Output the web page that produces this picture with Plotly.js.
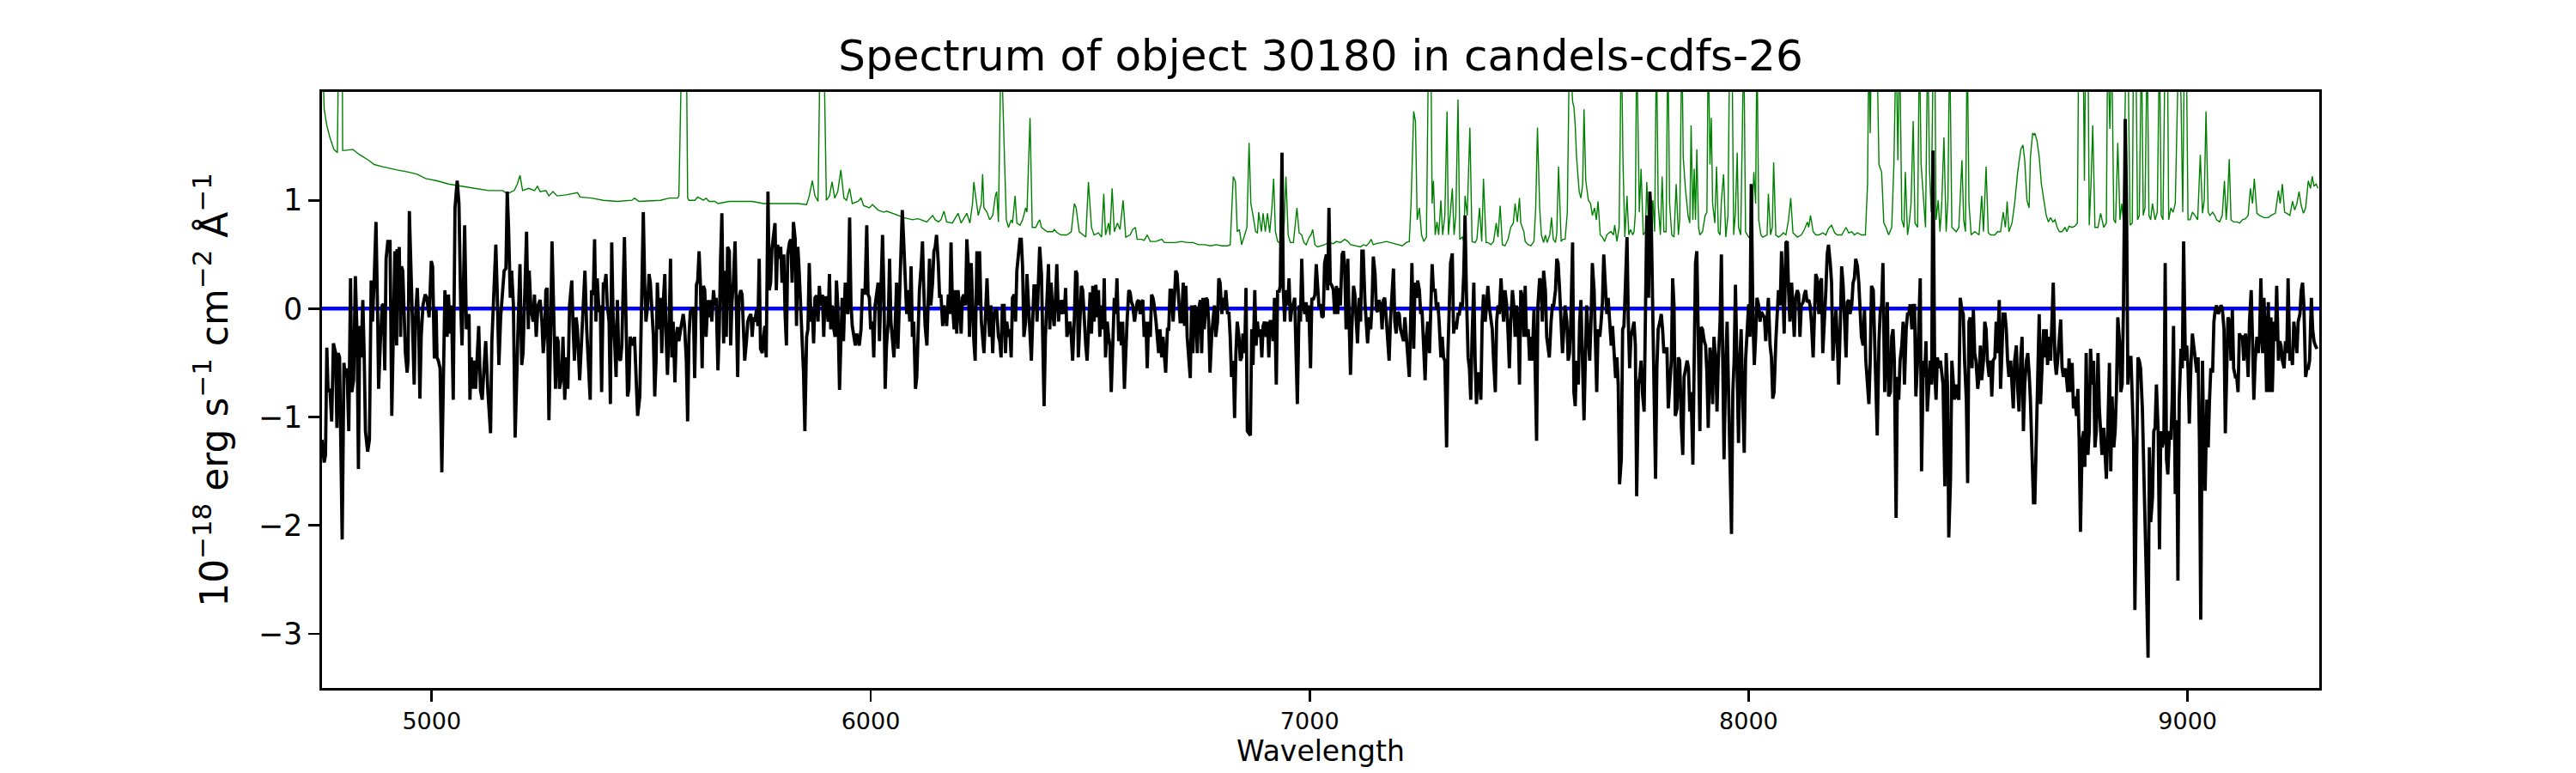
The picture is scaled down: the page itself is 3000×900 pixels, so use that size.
<!DOCTYPE html>
<html>
<head>
<meta charset="utf-8">
<script src="https://cdn.plot.ly/plotly-3.0.1.min.js"></script>
<style>html,body{margin:0;padding:0;background:#fff;}#chart{width:3000px;height:900px;}</style>
</head>
<body>
<div id="chart"></div>
<script>
// ---- Data ----
// Object spectrum (black), segment by segment: wavelength (Angstrom) and flux (1e-18 erg/s/cm2/A)
const waveA = [4750,4755,4758,4761,4764,4768,4772,4776,4781,4784,
4787,4790,4796,4800,4803,4807,4811,4815,4818,4822,
4826,4830,4833,4836,4839,4843,4846,4849,4854,4858,
4862,4865,4869,4873,4877,4879,4883,4887,4890,4893,
4896,4900,4905,4909,4913,4916,4920,4921,4924,4926,
4929,4931,4934,4937,4940,4944,4946,4949,4954,4957,
4960,4963,4967,4970,4973,4976,4980,4985,4989,4994,
4999,5002,5006,5010,5012,5015,5019,5023,5027,5030,
5035,5038,5042,5045,5049,5053,5058,5062,5066,5069,
5072,5075,5079,5082,5085,5087,5090,5094,5097,5100,
5104,5107,5111,5115,5119,5123,5128,5134,5137,5141,
5146,5149,5153,5157,5161,5165,5169,5172,5175,5179,
5182,5186,5190,5194,5197,5201,5205,5208,5211,5216,
5220,5222,5226,5231,5234,5238,5242,5247,5251,5254,
5257,5260,5263,5267,5270,5274,5278,5282,5285,5288,
5291,5296,5299,5303,5307,5310,5314,5319,5322,5325,
5329,5332,5337,5342,5345,5349,5353,5357,5361,5364,
5368,5371,5374,5377,5381,5384,5387,5391,5394,5397,
5400,5404,5407,5410,5413,5417,5420,5423,5426,5430,
5433,5439,5443,5446,5449,5452,5456,5459,5462,5466,
5469,5474,5479,5482,5485,5488,5492,5495,5498,5505,
5508,5511,5514,5518];
const fluxA = [-1.21,-1.42,-1.35,-0.36,-0.77,-0.74,-1.04,-0.32,-0.41,-1.10,
-0.41,-0.45,-2.13,-0.50,-0.63,-0.55,-1.13,0.28,-0.77,-0.66,
0.30,-0.26,-1.48,-0.16,-0.45,0.08,-0.41,-1.13,-1.32,-1.21,
0.26,-0.12,0.28,0.80,-0.12,-0.74,-0.30,0.03,0.04,-0.57,
0.46,0.62,0.62,-0.99,-0.12,0.53,-0.34,0.55,0.13,0.57,
-0.26,0.39,0.35,-0.08,-0.41,-0.59,-0.48,0.90,0.03,-0.26,
-0.70,-0.08,0.19,-0.12,-0.83,-0.26,0.03,0.13,0.10,-0.08,
0.44,0.39,-0.46,-0.01,-0.45,-0.48,-0.55,-1.51,-0.48,0.17,
-0.26,0.13,-0.23,0.03,-0.84,0.93,1.18,0.97,0.03,-0.34,
0.17,0.77,-0.19,-0.12,-0.05,-0.84,-0.45,-0.74,-0.48,-0.74,
-0.45,-0.16,-0.75,-0.84,-0.55,-0.30,-0.77,-1.15,-0.30,0.03,
0.59,0.17,-0.52,-0.08,0.17,0.35,0.37,1.08,0.75,0.10,
0.35,0.04,-1.19,-0.45,-0.12,0.41,-0.52,-0.41,-0.05,0.71,
-0.19,0.35,-0.01,-0.12,0.13,-0.26,0.03,0.08,-0.12,-0.41,
-0.26,0.17,0.19,-1.03,-0.41,0.62,-0.05,-0.74,-0.26,-0.30,
-0.74,-0.63,-0.26,-0.84,-0.45,-0.74,0.03,0.26,-0.16,-0.48,
-0.08,-0.19,-0.66,-0.26,0.08,0.35,-0.19,-0.48,-0.84,0.17,
0.13,0.64,-0.12,0.28,-0.03,0.03,-0.77,0.24,0.22,0.32,
0.03,-0.12,-0.88,0.61,-0.05,-0.34,-0.63,0.08,-0.45,-0.48,
-0.34,0.66,-0.12,-0.81,-0.74,-0.26,-0.30,-0.34,-0.26,-0.81,
-0.99,-0.81,0.24,0.89,0.24,-0.12,0.03,0.32,0.24,-0.26,
-0.81,-0.48,0.24,-0.19];

const waveB = [5521,5524,5528,5531,5534,5537,5541,5544,5547,5550,
5554,5557,5560,5563,5567,5570,5573,5576,5580,5583,
5586,5589,5593,5596,5599,5603,5606,5609,5612,5616,
5619,5622,5625,5629,5632,5635,5638,5642,5645,5648,
5652,5655,5658,5661,5665,5668,5671,5674,5678,5681,
5684,5687,5691,5694,5697,5700,5704,5707,5710,5713,
5717,5720,5723,5727,5730,5733,5736,5740,5743,5746,
5749,5753,5756,5759,5762,5766,5769,5772,5775,5779,
5782,5785,5788,5792,5795,5798,5802,5805,5808,5811,
5815,5818,5821,5824,5828,5831,5834,5837,5841,5844,
5847,5850,5854,5857,5860,5864,5867,5870,5873,5877,
5880,5883,5886,5890,5893,5896,5899,5903,5906,5909,
5912,5916,5919,5922,5925,5929,5932,5935,5938,5942,
5945,5948,5952,5955,5958,5961,5965,5968,5971,5974,
5978,5981,5984,5987,5991,5994,5997,6000,6004,6007,
6010,6013,6017,6020,6023,6027,6030,6033,6036,6040,
6043,6046,6049,6053,6056,6059,6062,6066,6069,6072,
6075,6079,6082,6085,6089,6092,6095,6098,6102,6105,
6108,6111,6115,6118,6121,6124,6128,6131,6134,6137,
6141,6144,6147,6150,6154,6157,6160,6164,6167,6170,
6173,6177,6180,6183,6186,6190,6193,6196,6199,6203,
6206,6209,6212,6216,6219,6222,6225,6229,6232,6235,
6238,6242,6245,6248,6252,6255,6258,6261,6265,6268,
6271,6274,6278,6281,6284,6287,6291,6294,6297,6300];
const fluxB = [0.10,-0.41,0.10,0.32,-0.26,-0.61,-0.12,0.46,-0.45,-0.12,
-0.68,-0.26,-0.17,-0.30,-0.19,-0.12,-0.05,-0.16,-0.48,-1.04,
-0.26,-0.03,-0.01,0.01,-0.64,0.22,0.26,0.53,0.24,-0.55,
0.21,0.17,-0.26,0.08,-0.08,0.08,-0.12,0.17,0.03,0.10,
-0.57,-0.19,0.46,0.88,-0.32,0.35,-0.26,0.57,0.53,-0.34,
0.06,0.24,0.62,-0.23,-0.63,0.10,0.17,0.13,-0.12,-0.48,
-0.30,-0.12,-0.08,-0.05,-0.26,-0.08,-0.12,-0.01,-0.16,0.46,
-0.37,-0.41,-0.26,-0.16,-0.45,1.08,0.17,0.24,0.55,0.68,
0.79,0.17,0.59,0.46,0.57,0.24,0.50,-0.05,-0.34,0.50,
0.61,0.64,0.24,0.80,0.64,-0.16,0.57,0.35,-0.07,-0.34,
-0.59,-1.13,-0.26,-0.19,0.42,-0.12,-0.01,-0.32,0.10,0.12,
-0.12,0.21,0.03,0.13,-0.26,0.10,0.10,-0.12,0.32,-0.19,
0.03,-0.19,-0.26,0.26,0.03,-0.75,-0.16,0.10,-0.30,0.24,
0.03,-0.05,0.84,0.06,-0.16,-0.26,-0.34,-0.23,-0.30,-0.34,
-0.19,0.17,0.17,0.13,0.77,0.13,0.10,-0.19,-0.12,-0.45,
0.03,0.13,0.24,-0.30,0.10,0.68,0.17,-0.74,-0.34,-0.12,
0.46,-0.12,-0.26,-0.45,-0.12,0.24,-0.37,0.24,0.68,0.91,
0.64,0.32,-0.05,0.17,-0.12,0.39,-0.26,-0.12,-0.74,-0.63,
-0.19,0.17,0.39,0.62,0.17,-0.16,-0.34,0.17,0.46,0.03,
0.24,0.53,0.57,0.68,0.42,0.10,0.13,-0.16,0.03,-0.05,
-0.16,0.13,-0.05,0.61,0.06,-0.19,0.17,-0.23,0.17,-0.01,
-0.23,0.10,0.13,0.03,0.64,0.42,-0.26,0.42,-0.01,-0.30,
-0.48,0.53,0.03,0.53,-0.12,-0.26,-0.41,-0.12,0.28,-0.05,
-0.26,0.03,-0.41,-0.05,-0.01,-0.01,-0.26,-0.30,-0.45,0.03];

const waveC = [6304,6307,6310,6314,6317,6320,6323,6327,6330,6333,
6336,6340,6343,6346,6349,6353,6356,6359,6362,6366,
6369,6372,6376,6379,6382,6385,6389,6392,6395,6398,
6402,6405,6408,6411,6415,6418,6421,6424,6428,6431,
6434,6438,6441,6444,6447,6451,6454,6457,6460,6464,
6467,6470,6473,6477,6480,6483,6486,6490,6493,6496,
6500,6503,6506,6509,6513,6516,6519,6522,6526,6529,
6532,6535,6539,6542,6545,6548,6552,6555,6558,6561,
6565,6568,6571,6574,6578,6581,6584,6588,6591,6594,
6597,6601,6604,6607,6610,6614,6617,6620,6623,6627,
6630,6633,6637,6640,6643,6646,6650,6653,6656,6659,
6663,6666,6669,6672,6676,6679,6682,6685,6689,6692,
6695,6698,6702,6705,6708,6712,6715,6718,6721,6725,
6728,6731,6734,6738,6741,6744,6747,6751,6754,6757,
6760,6764,6767,6770,6773,6777,6780,6783,6786,6790,
6793,6796,6800,6803,6806,6809,6813,6816,6819,6822,
6826,6829,6832,6835,6839,6842,6845,6848,6852,6855,
6858,6862,6865,6868,6871,6875,6878,6881,6884,6888,
6891,6894,6897,6901,6904,6907,6910,6914,6917,6920,
6924,6927,6930,6933,6937,6940,6943,6946,6950,6953,
6956,6959,6963,6966,6969,6972,6976,6979,6982,6985,
6989,6992,6995,6998,7002,7005,7008,7012,7015,7018,
7021,7025,7028,7031,7034,7038,7041,7044,7047,7051,
7054,7057,7061,7064,7067,7070,7074,7077,7080,7083];
const fluxC = [0.03,-0.41,-0.12,-0.26,-0.19,-0.45,0.10,0.13,-0.12,0.35,
0.50,0.64,0.64,0.39,-0.26,-0.12,0.32,0.06,-0.26,-0.48,
-0.12,0.21,0.21,-0.12,0.24,0.57,0.32,-0.34,-0.90,-0.26,
0.24,0.41,-0.19,0.24,-0.05,-0.16,0.10,0.41,-0.12,0.08,
-0.05,0.08,-0.05,0.19,-0.26,-0.19,-0.12,-0.26,-0.48,-0.08,
0.35,0.32,-0.45,-0.08,0.21,0.17,-0.12,-0.34,-0.48,-0.12,
0.15,-0.23,0.21,-0.12,0.22,-0.08,0.17,-0.26,0.03,-0.19,
0.28,-0.45,-0.12,-0.26,-0.34,-0.77,-0.19,0.10,-0.05,0.28,
-0.30,-0.12,-0.34,-0.12,-0.74,-0.30,-0.12,0.17,0.15,0.06,
0.03,-0.12,-0.05,0.06,0.08,-0.05,0.06,0.08,-0.26,-0.12,
-0.55,-0.12,-0.26,0.13,0.10,0.03,-0.12,-0.26,-0.41,-0.19,
-0.45,-0.26,-0.48,-0.59,-0.19,-0.19,0.17,0.17,-0.12,0.21,
0.35,0.32,0.03,-0.12,-0.12,0.24,-0.16,0.21,-0.26,-0.48,
-0.64,0.03,-0.41,0.03,-0.01,-0.41,-0.01,0.08,-0.41,0.10,
-0.19,0.10,0.08,-0.12,-0.59,-0.23,-0.05,0.03,-0.26,-0.12,
0.28,0.24,-0.05,0.10,-0.01,0.17,-0.05,-0.03,-0.26,-0.63,
-0.48,-1.01,-0.41,-0.12,-0.26,-0.48,-0.45,-0.23,-0.41,0.19,
-1.13,-1.15,-1.17,-0.19,-0.52,0.17,-0.34,-0.12,-0.26,-0.19,
-0.45,-0.16,-0.12,-0.26,-0.12,-0.45,-0.12,-0.12,-0.30,0.10,
-0.70,0.17,0.15,0.21,1.44,0.17,-0.12,0.17,0.03,0.28,
-0.12,-0.01,0.06,0.10,-0.41,-0.88,0.03,-0.12,0.46,0.03,
-0.05,0.06,-0.12,0.03,-0.55,0.10,0.08,0.13,0.41,0.17,
0.03,0.03,-0.08,-0.07,0.42,0.50,0.17,0.93,0.24,0.21,
0.17,-0.05,0.21,-0.05,0.19,0.03,0.50,0.53,0.35,-0.19];

const waveD = [7087,7090,7093,7096,7100,7103,7106,7109,7113,7116,
7119,7122,7126,7129,7132,7136,7139,7142,7145,7149,
7152,7155,7158,7162,7165,7168,7171,7175,7178,7181,
7184,7188,7191,7194,7197,7201,7204,7207,7210,7214,
7217,7220,7224,7227,7230,7233,7237,7240,7243,7246,
7250,7253,7256,7259,7263,7266,7269,7273,7276,7279,
7282,7286,7289,7292,7295,7299,7302,7305,7308,7312,
7315,7318,7321,7325,7328,7331,7334,7338,7341,7344,
7348,7351,7354,7357,7361,7364,7367,7370,7374,7377,
7380,7383,7387,7390,7393,7396,7400,7403,7406,7409,
7413,7416,7419,7423,7426,7429,7432,7436,7439,7442,
7445,7449,7452,7455,7458,7462,7465,7468,7471,7475,
7478,7481,7485,7488,7491,7494,7498,7501,7504,7507,
7511,7514,7517,7520,7524,7527,7530,7533,7537,7540,
7543,7546,7550,7553,7556,7560,7563,7566,7569,7573,
7576,7579,7582,7586,7589,7592,7595,7599,7602,7605,
7608,7612,7615,7618,7621,7625,7628,7631,7634,7638,
7641,7644,7648,7651,7654,7657,7661,7664,7667,7670,
7674,7677,7680,7683,7687,7690,7693,7697,7700,7703,
7706,7710,7713,7716,7719,7723,7726,7729,7732,7736,
7739,7742,7745,7749,7752,7755,7758,7762,7765,7768,
7772,7775,7778,7781,7785,7788,7791,7794,7798,7801,
7804,7807,7811,7814,7817,7820,7824,7827,7830,7833,
7837,7840,7843,7847,7850,7853,7856,7860,7863,7866];
const fluxD = [0.46,-0.12,-0.61,-0.19,0.21,0.13,-0.12,-0.32,0.10,-0.12,
0.53,0.53,0.06,-0.16,-0.32,-0.08,-0.19,0.03,0.48,0.32,
-0.01,-0.03,0.08,0.03,-0.19,0.08,0.10,-0.12,-0.26,-0.48,
-0.12,0.17,0.37,-0.12,-0.23,-0.03,-0.05,-0.19,-0.23,-0.30,
-0.08,-0.26,-0.45,-0.63,-0.12,0.42,-0.37,0.24,0.10,0.26,
0.17,-0.05,-0.01,-0.26,-0.66,-0.26,-0.12,-0.41,-0.05,0.41,
0.17,0.17,-0.01,0.06,-0.12,-0.45,-0.26,-0.45,-0.48,-1.28,
-0.41,0.17,0.42,0.51,-0.23,-0.12,-0.19,-0.05,-0.05,0.04,
0.03,0.32,0.86,0.17,-0.45,-0.55,-0.84,-0.26,0.24,-0.48,
-0.88,-0.59,-0.63,-0.84,-0.12,0.13,-0.12,0.03,0.21,0.03,
-0.12,-0.19,-0.48,-0.77,-0.12,0.03,-0.05,0.28,0.03,-0.12,
0.17,0.03,-0.23,-0.55,-0.12,0.17,0.03,-0.26,0.03,-0.12,
-0.70,0.17,0.10,-0.26,0.21,-0.26,-0.19,-0.48,-0.26,-0.48,
-0.01,-0.52,-1.22,0.03,0.28,0.24,-0.12,0.35,0.17,-0.26,
-0.34,-0.45,-0.12,0.03,0.03,0.17,0.46,0.42,0.21,-0.12,
-0.41,-0.19,0.03,-0.12,-0.48,-0.41,-0.12,0.61,-0.77,-0.90,
-0.48,-0.70,-0.12,0.08,-0.48,-1.03,-0.48,0.03,-0.19,-0.48,
-0.12,0.42,0.17,-0.26,-0.77,-0.19,-0.26,-0.12,0.06,0.50,
0.17,-0.05,0.10,-0.05,-0.34,-0.16,-0.41,-0.64,-0.45,-0.70,
-1.62,-1.39,-0.19,-0.16,0.17,0.66,-0.12,-0.55,-0.26,-0.16,
-0.12,-0.34,-1.73,-0.70,-0.63,-0.48,-0.77,-0.95,0.17,0.86,
0.10,1.08,0.86,0.10,-0.48,-1.57,-0.55,-0.19,-0.12,-0.05,
-0.19,-0.41,-0.37,-0.37,-0.92,-0.70,-0.48,0.28,0.03,-0.99,
-0.92,-0.45,-0.48,-1.10,-1.35,-0.63,-0.55,-0.48,-0.55,-0.95];

const waveE = [7869,7873,7876,7879,7882,7886,7889,7892,7895,7899,
7902,7905,7908,7912,7915,7918,7921,7925,7928,7931,
7935,7938,7941,7944,7948,7951,7954,7957,7961,7964,
7967,7970,7974,7977,7980,7983,7987,7990,7993,7996,
8000,8003,8006,8010,8013,8016,8019,8023,8026,8029,
8032,8036,8039,8042,8045,8049,8052,8055,8058,8062,
8065,8068,8072,8075,8078,8081,8085,8088,8091,8094,
8098,8101,8104,8107,8111,8114,8117,8120,8124,8127,
8130,8133,8137,8140,8143,8147,8150,8153,8156,8160,
8163,8166,8169,8173,8176,8179,8182,8186,8189,8192,
8196,8199,8202,8205,8209,8212,8215,8218,8222,8225,
8228,8231,8235,8238,8241,8244,8248,8251,8254,8257,
8261,8264,8267,8270,8274,8277,8280,8284,8287,8290,
8293,8297,8300,8303,8306,8310,8313,8316,8319,8323,
8326,8329,8332,8336,8339,8342,8345,8349,8352,8355,
8359,8362,8365,8368,8372,8375,8378,8381,8385,8388,
8391,8394,8398,8401,8404,8407,8411,8414,8417,8420,
8424,8427,8430,8434,8437,8440,8443,8447,8450,8453,
8456,8460,8463,8466,8469,8473,8476,8479,8482,8486,
8489,8492,8496,8499,8502,8505,8509,8512,8515,8518,
8522,8525,8528,8531,8535,8538,8541,8544,8548,8551,
8554,8557,8561,8564,8567,8571,8574,8577,8580,8584,
8587,8590,8593,8597,8600,8603,8606,8610,8613,8616,
8620,8623,8626,8629,8633,8636,8639,8642,8646,8649];
const fluxE = [-0.77,-1.44,-0.48,0.42,0.53,-0.48,-1.13,-0.17,-0.19,-0.30,
-0.34,-0.59,-1.10,-0.36,-0.48,-0.88,-0.26,-0.48,-0.95,-0.48,
-0.12,0.50,-0.48,-1.39,-0.48,-0.12,-0.70,-1.21,-2.08,-0.77,
-0.48,0.22,-0.48,-1.24,-0.48,-0.19,-0.92,-1.33,-0.48,-0.19,
0.04,-0.26,1.15,-0.12,-0.52,-0.26,0.10,0.03,-0.12,-0.03,
-0.05,-0.08,-0.30,-0.08,0.10,-0.34,-0.45,-0.83,-0.77,-0.30,
0.03,0.17,0.03,0.53,0.17,-0.23,0.61,0.62,0.17,-0.12,
0.24,-0.12,-0.26,0.10,0.17,0.13,-0.26,0.03,0.06,0.13,
0.17,0.06,0.08,0.03,-0.12,-0.45,-0.12,0.32,0.28,-0.05,
0.24,0.28,-0.41,-0.12,0.17,0.50,0.59,0.42,0.24,-0.48,
-0.19,-0.01,-0.30,-0.70,-0.12,0.39,0.24,-0.12,-0.45,0.06,
0.08,-0.05,0.03,0.24,0.28,0.46,0.39,0.24,0.03,-0.26,
-0.34,-0.01,-0.48,-0.70,-0.88,-0.48,0.21,0.17,-0.26,-0.84,
-1.17,-0.30,-0.01,0.03,0.42,-0.77,-0.26,0.06,-0.81,-0.77,
-0.26,-0.19,-0.48,-1.93,-0.63,-0.84,-0.48,-0.34,-0.12,-0.70,
-0.19,-0.05,-0.05,0.04,-0.19,0.03,0.03,-0.81,-0.48,0.03,
0.28,-1.50,-0.48,-0.63,-0.30,-0.95,-0.70,-0.48,-0.70,1.46,
-0.59,-0.84,-0.45,-0.55,-0.48,-0.59,-0.70,-1.64,-0.41,-0.70,
-2.11,-1.57,-0.48,-0.66,-0.84,-0.70,-0.81,-0.84,0.10,-0.01,
-0.05,-0.48,-0.84,-1.61,-0.12,-0.08,-0.55,-0.01,-0.41,-0.48,
-0.74,-0.63,-0.34,-0.66,-0.48,-0.12,-0.19,-0.48,-0.63,-0.48,
-0.81,-0.48,-0.45,-0.12,-0.41,0.08,-0.74,-0.41,-0.05,-0.05,
-0.19,-0.48,-0.63,-0.48,-0.70,-0.92,-0.48,-0.34,-0.74,-0.95,
-0.45,-0.26,-1.13,-0.70,-0.48,-0.41,-0.59,-0.84,-1.39,-1.79];

const waveF = [8652,8655,8659,8662,8665,8668,8672,8675,8678,8681,
8685,8688,8691,8694,8698,8701,8704,8708,8711,8714,
8717,8721,8724,8727,8730,8734,8737,8740,8743,8747,
8750,8753,8756,8760,8763,8766,8769,8773,8776,8779,
8783,8786,8789,8792,8796,8799,8802,8805,8809,8812,
8815,8818,8822,8825,8828,8832,8835,8838,8841,8845,
8848,8851,8854,8858,8861,8864,8867,8871,8874,8877,
8880,8884,8887,8890,8893,8897,8900,8903,8906,8910,
8913,8916,8920,8923,8926,8929,8933,8936,8939,8942,
8946,8949,8952,8955,8959,8962,8965,8968,8972,8975,
8978,8981,8985,8988,8991,8995,8998,9001,9004,9008,
9011,9014,9017,9021,9024,9027,9030,9034,9037,9040,
9044,9047,9050,9053,9057,9060,9063,9066,9070,9073,
9076,9079,9083,9086,9089,9092,9096,9099,9102,9105,
9109,9112,9115,9118,9122,9125,9128,9132,9135,9138,
9141,9145,9148,9151,9154,9158,9161,9164,9167,9171,
9174,9177,9180,9184,9187,9190,9193,9197,9200,9203,
9207,9210,9213,9216,9220,9223,9226,9229,9233,9236,
9239,9242,9246,9249,9252,9256,9259,9262,9265,9269,
9272,9275,9278,9282,9285,9288,9291,9295];
const fluxF = [-1.79,-1.21,-0.48,-0.05,-0.88,-0.48,-0.19,-0.45,-0.19,-0.52,
-0.26,-0.48,-0.12,0.24,-0.48,-0.61,-0.48,-0.19,-0.10,-0.54,
-0.63,-0.55,-0.63,-0.77,-0.46,-0.77,-0.50,-0.92,-0.81,-0.99,
-0.74,-1.21,-2.06,-1.21,-1.13,-1.46,-0.41,-1.35,-1.13,-0.37,
-0.70,-0.48,-1.28,-1.13,-0.41,-0.92,-1.21,-1.35,-1.10,-1.35,
-1.57,-1.17,-0.50,-1.50,-0.81,-1.28,-1.13,-0.77,-0.08,-0.30,
-0.77,-0.70,0.03,1.75,0.97,-0.70,-0.45,-0.45,-0.84,-1.21,
-2.78,-1.21,-0.45,-0.48,-0.55,-0.92,-1.39,-1.75,-2.47,-3.22,
-1.28,-1.97,-1.75,-1.13,-1.10,-0.70,-1.13,-2.22,-1.13,-1.28,
-1.21,0.42,-1.39,-1.53,-1.13,-1.21,-0.84,-0.16,-1.71,-1.03,
-2.51,-0.84,-0.37,-0.55,0.62,-0.48,-0.34,-0.55,-1.06,-0.48,
-0.23,-0.34,-0.45,-0.59,-0.45,-1.21,-2.87,-0.48,-1.32,-1.68,
-0.84,-1.28,-0.84,-0.55,-0.59,-0.12,-0.01,0.03,-0.05,-0.01,
0.03,0.01,-0.19,-1.15,-0.41,-0.08,-0.12,-0.48,-0.01,-0.55,
-0.63,-0.63,-0.77,-0.23,-0.26,-0.26,-0.48,-0.23,-0.34,-0.63,
-0.12,0.17,-0.30,-0.84,-0.48,-0.26,-0.41,-0.26,0.28,-0.41,
0.10,-0.19,-0.77,0.06,-0.77,-0.08,-0.77,-0.12,-0.30,0.21,
-0.48,-0.30,-0.34,-0.48,-0.55,-0.30,-0.41,0.28,-0.48,-0.41,
-0.52,-0.12,-0.26,-0.41,-0.12,-0.05,0.17,0.24,0.03,-0.63,
-0.55,-0.55,-0.48,0.10,-0.19,-0.30,-0.34,-0.37];

// Sky / noise spectrum (green); sky-line peaks that leave the frame are given as 2.5 (clipped)
const skyWave1 = [4750,4755,4761,4768,4777,4785,4788,4796,4797,4803,4820,4836,4856,4869,4888,4908,4921,4947,4967,4986,5012,5038,5064,5097,5130,5162,5172,5188,5195,5201,5207,5221,5234,5241,5247,5260,5267,5276,5286,5306,5332,5338,5364,5391,5423,5456,5462,5472];
const sky1 = [2.5,1.84,1.69,1.58,1.47,1.44,2.5,2.5,1.46,1.46,1.47,1.42,1.37,1.33,1.31,1.29,1.28,1.26,1.24,1.20,1.18,1.15,1.13,1.11,1.09,1.09,1.06,1.09,1.15,1.23,1.09,1.11,1.09,1.13,1.08,1.09,1.04,1.08,1.04,1.05,1.07,1.03,1.02,1.00,0.99,1.00,1.02,0.99];
const skyWave2 = [5521,5541,5560,5563,5570,5580,5583,5586,5599,5606,5619,5625,5632,5645,5652,5678,5704,5730,5756,5782,5808,5834,5854,5860,5867,5873,5880,5885,5893,5896,5899,5906,5912,5918,5925,5932,5939,5945,5952,5958,5971,5978,5984,5997,6004,6017,6030,6036,6049,6062,6076,6095,6108,6128,6141,6147,6154,6160,6167,6173,6186,6199,6206,6219,6226,6232,6235,6239,6245,6252,6255,6258,6265,6271,6278,6284,6287,6291,6297];
const sky2 = [1.00,1.02,1.02,1.04,2.5,2.5,1.02,1.00,1.00,1.03,1.00,1.02,0.99,0.99,0.97,0.99,0.99,0.99,0.97,0.97,0.97,0.97,0.96,1.04,1.18,1.04,0.99,2.5,2.5,1.80,1.00,1.04,1.17,1.02,1.08,1.28,1.02,1.00,1.11,0.97,0.99,1.02,0.95,0.93,0.96,0.91,0.89,0.90,0.88,0.86,0.84,0.82,0.83,0.80,0.86,0.82,0.80,0.82,0.90,0.80,0.79,0.88,0.79,0.88,0.79,0.97,1.17,1.04,0.86,0.97,1.24,0.93,0.89,0.82,0.86,1.04,1.08,0.80,2.5];
const skyWave3 = [6306,6309,6314,6320,6323,6329,6333,6340,6346,6353,6356,6363,6368,6376,6382,6385,6389,6402,6415,6418,6425,6434,6447,6457,6464,6468,6475,6483,6490,6496,6503,6509,6519,6526,6531,6535,6542,6545,6550,6555,6562,6568,6575,6581,6591,6597,6603,6607,6617,6623,6630,6637,6650,6663,6669,6695,6708,6721,6734,6747,6760,6774,6787,6800,6813,6819,6826,6831,6835,6840,6845,6852,6857,6862,6866,6871,6877,6881,6884,6890,6894,6899,6904,6909,6914,6918,6922,6927,6931,6937,6942,6946,6951,6956,6963,6966,6971,6976,6982,6987,6992,6999,7003,7007,7012,7018,7028,7034,7044,7054,7061,7070,7080];
const sky3 = [1.22,0.82,0.75,0.82,0.79,1.04,0.79,0.77,0.82,0.93,0.89,1.76,0.75,0.75,0.80,0.82,0.75,0.71,0.71,0.73,0.70,0.68,0.68,0.71,0.97,0.93,0.71,0.68,0.66,1.17,0.75,0.68,0.70,0.66,1.06,0.68,0.79,0.68,1.11,0.71,0.79,0.73,1.00,0.66,0.68,0.73,0.75,0.64,0.64,0.63,0.68,0.62,0.62,0.64,0.61,0.61,0.62,0.61,0.61,0.59,0.59,0.58,0.59,0.58,0.58,0.59,1.22,1.17,0.71,0.73,0.59,0.68,0.75,1.53,0.97,0.86,0.71,0.70,0.89,0.71,0.88,0.71,0.88,0.70,0.93,1.20,0.71,0.62,0.61,0.59,0.79,1.22,0.68,0.61,0.61,0.75,0.93,0.70,0.68,0.61,0.59,0.66,0.68,0.73,0.59,0.57,0.58,0.59,0.61,0.60,0.62,0.61,0.64];
const skyWave4 = [7087,7093,7106,7116,7123,7129,7136,7140,7145,7152,7165,7175,7184,7194,7201,7211,7220,7227,7231,7237,7241,7245,7250,7255,7260,7266,7271,7276,7279,7282,7286,7290,7294,7299,7303,7308,7313,7316,7320,7325,7329,7333,7338,7342,7348,7351,7354,7359,7365,7370,7377,7381,7387,7392,7396,7402,7406,7413,7419,7425,7429,7434,7439,7445,7452,7458,7464,7468,7473,7478,7481,7488,7491,7498,7504,7511,7515,7519,7524,7528,7533,7537,7541,7547,7551,7555,7560,7563,7567,7573,7577,7582,7587,7592,7599,7602,7605,7608,7614,7618,7622,7625,7629,7635,7640,7644,7649,7653,7657,7662,7667,7672,7677,7682,7687,7692,7695,7700,7705,7710,7714,7718,7723,7727,7731,7736,7739,7742,7745,7751,7755,7760,7765,7768,7773,7778,7782,7786,7790,7794,7799,7803,7807,7812,7816,7820,7825,7830,7835,7840,7843,7848,7851,7856,7862,7866];
const sky4 = [0.62,0.59,0.58,0.57,0.59,0.58,0.61,0.64,0.59,0.60,0.61,0.62,0.61,0.60,0.59,0.58,0.61,0.62,0.97,1.82,1.73,0.82,0.93,0.68,0.62,0.66,2.5,2.5,0.97,1.18,0.68,0.80,0.68,1.00,0.68,0.86,1.82,0.68,0.86,1.11,0.68,0.86,1.93,0.64,0.66,0.62,1.04,0.86,1.67,0.62,0.61,0.64,0.93,0.62,1.20,0.61,0.61,0.59,0.62,0.79,0.66,0.95,0.59,0.58,0.64,0.75,0.79,0.97,0.80,1.02,0.79,0.71,0.62,0.59,0.58,0.62,0.93,1.67,0.93,0.68,0.61,0.68,0.61,0.68,0.84,0.64,0.61,0.70,1.31,0.62,0.64,0.64,0.89,2.5,1.91,1.86,1.69,1.40,1.08,1.02,1.15,1.84,1.18,1.00,0.97,0.86,0.93,0.82,0.99,0.68,0.66,0.62,0.68,0.70,0.71,0.68,0.77,0.62,0.75,2.5,1.33,0.66,1.04,0.68,0.73,0.68,0.71,0.88,2.5,0.89,1.29,0.68,0.71,1.17,0.68,0.82,1.00,0.71,2.5,0.97,0.68,1.22,0.71,0.71,2.5,0.97,0.68,0.66,1.15,0.68,0.82,2.5,1.40,1.11,0.86,0.79];
const skyWave5 = [7869,7873,7876,7879,7882,7886,7889,7895,7901,7905,7908,7912,7915,7918,7923,7927,7931,7935,7938,7943,7948,7953,7957,7962,7966,7970,7974,7977,7982,7985,7989,7993,8000,8006,8012,8016,8019,8023,8028,8032,8042,8045,8050,8054,8057,8062,8068,8075,8079,8085,8091,8096,8101,8111,8120,8127,8134,8137,8141,8147,8153,8160,8169,8176,8182,8189,8196,8202,8212,8222,8228,8235,8241,8248,8257,8266,8271,8274,8277,8280,8292,8297,8303,8308,8313,8319,8326,8331,8336,8340,8344,8349,8354,8357,8362,8366,8370,8375,8379,8385,8389,8393,8398,8403,8408,8412,8416,8421,8424,8427,8432,8436,8440,8445,8450,8454,8458,8463,8473,8479,8486,8490,8494,8498,8502,8507,8515,8525,8531,8535,8541,8546,8551,8561,8567,8574,8580,8585,8589,8593,8600,8606,8613,8620,8625,8629,8634,8639,8642,8647,8651];
const sky5 = [1.69,0.82,1.29,0.82,1.47,0.75,0.68,0.71,0.86,0.89,2.5,1.33,1.76,0.97,0.79,1.31,0.71,0.68,1.00,1.24,0.66,0.86,2.5,2.5,0.68,0.89,1.44,0.75,0.68,1.69,2.5,0.71,0.66,0.68,1.26,0.97,2.5,0.82,0.68,0.66,0.68,1.06,0.68,0.75,1.35,0.68,0.66,0.68,0.70,0.68,0.82,1.02,0.70,0.66,0.68,0.73,0.80,0.75,0.86,0.71,0.68,0.68,0.70,0.68,0.74,0.77,0.70,0.68,0.68,0.75,0.70,0.71,0.68,0.70,0.68,0.68,1.15,2.5,1.62,2.5,2.5,1.33,1.26,0.79,0.75,0.68,0.75,1.33,2.5,1.37,2.5,0.82,0.75,1.26,0.68,0.79,0.97,1.73,0.79,0.75,2.5,1.33,1.00,0.75,2.5,1.29,0.89,2.5,2.5,0.82,1.00,0.71,0.97,1.58,0.71,1.00,2.5,0.75,0.71,0.75,1.37,0.82,0.71,2.5,0.97,0.68,0.71,0.68,1.04,0.71,1.31,0.70,0.68,0.68,0.71,0.71,0.89,0.75,0.99,0.71,0.79,0.97,1.26,1.47,1.51,1.37,1.00,0.93,1.40,1.62,1.60];
const skyWave6 = [8652,8657,8662,8667,8672,8678,8683,8688,8693,8698,8703,8708,8714,8721,8725,8730,8737,8743,8749,8752,8762,8765,8768,8773,8776,8780,8784,8789,8796,8802,8809,8815,8818,8823,8827,8832,8836,8841,8846,8850,8854,8860,8864,8869,8874,8877,8882,8886,8890,8895,8899,8903,8908,8912,8916,8920,8926,8931,8936,8940,8944,8949,8954,8957,8962,8967,8972,8980,8985,8989,8993,8997,9001,9006,9011,9017,9023,9029,9034,9038,9042,9047,9051,9057,9062,9066,9073,9079,9084,9088,9091,9095,9099,9105,9112,9119,9125,9132,9138,9143,9148,9152,9158,9164,9174,9184,9190,9200,9207,9211,9216,9221,9226,9233,9239,9244,9249,9254,9259,9264,9269,9275,9280,9284,9288,9293,9297];
const sky6 = [1.62,1.55,1.40,1.15,1.00,0.86,0.80,0.84,0.80,0.82,0.75,0.71,0.71,0.75,0.71,0.76,0.75,0.76,0.79,2.5,2.5,1.18,2.5,2.5,0.77,1.15,1.69,0.75,0.75,0.88,0.75,0.79,2.5,1.66,2.5,0.82,0.79,1.53,0.82,0.97,0.80,2.5,2.5,0.77,0.79,2.5,2.5,0.82,0.86,2.5,0.86,0.93,2.5,0.86,0.82,0.97,0.82,0.89,2.5,0.86,0.82,2.5,2.5,0.82,0.93,0.89,0.97,2.5,1.95,0.89,2.5,2.5,0.82,0.82,0.89,0.86,0.82,1.42,0.88,1.00,1.82,0.89,0.86,0.89,0.86,0.82,0.80,0.86,1.18,0.82,1.00,1.38,0.82,0.80,0.80,0.79,0.82,0.83,0.86,1.11,0.97,1.20,0.88,0.86,0.84,0.84,0.86,0.88,1.09,0.97,1.15,0.89,0.88,0.86,0.99,0.91,0.97,1.08,0.95,0.88,0.93,1.18,1.11,1.22,1.13,1.15,1.11];

// Zero reference level (blue)
const zeroWave = [4750, 9300];
const zeroLevel = [0, 0];

// Axes
const xRange = [4750, 9300];
const yRange = [-3.5, 2.0];
const xTicks = [5000, 6000, 7000, 8000, 9000];
const yTicks = [-3, -2, -1, 0, 1];

const titleText = 'Spectrum of object 30180 in candels-cdfs-26';
const xTitle = 'Wavelength';
const yTitle = '10<sup>\u221218</sup> erg s<sup>\u22121</sup> cm<sup>\u22122</sup> \u00c5<sup>\u22121</sup>';

// ---- Build traces ----
const wave = [].concat(waveA, waveB, waveC, waveD, waveE, waveF);
const flux = [].concat(fluxA, fluxB, fluxC, fluxD, fluxE, fluxF);
const skyWave = [].concat(skyWave1, skyWave2, skyWave3, skyWave4, skyWave5, skyWave6);
const sky = [].concat(sky1, sky2, sky3, sky4, sky5, sky6);

const traces = [
  {x: skyWave, y: sky, type: 'scatter', mode: 'lines', line: {color: '#008000', width: 1.4}, hoverinfo: 'skip'},
  {x: zeroWave, y: zeroLevel, type: 'scatter', mode: 'lines', line: {color: '#0000ff', width: 4.5}, hoverinfo: 'skip'},
  {x: wave, y: flux, type: 'scatter', mode: 'lines', line: {color: '#000000', width: 3.8}, hoverinfo: 'skip'}
];

const FONT = 'DejaVu Sans, Verdana, sans-serif';
const layout = {
  width: 3000, height: 900,
  margin: {l: 375, r: 299, t: 107, b: 99, pad: 0},
  paper_bgcolor: '#ffffff', plot_bgcolor: '#ffffff',
  showlegend: false,
  font: {family: FONT, color: '#000000'},
  title: {text: titleText, font: {family: FONT, size: 50, color: '#000'}, x: 0.5, xref: 'paper', xanchor: 'center', y: 0.928, yref: 'container', yanchor: 'middle'},
  xaxis: {
    range: xRange, tickvals: xTicks, ticktext: xTicks.map(String),
    ticks: 'outside', ticklen: 13, tickwidth: 2.7, tickcolor: '#000',
    tickfont: {family: FONT, size: 27, color: '#000'},
    showline: true, linecolor: '#000', linewidth: 2.7, mirror: true,
    showgrid: false, zeroline: false,
    title: {text: xTitle, font: {family: FONT, size: 33, color: '#000'}, standoff: 6}
  },
  yaxis: {
    range: yRange, tickvals: yTicks,
    ticks: 'outside', ticklen: 13, tickwidth: 2.7, tickcolor: '#000',
    tickfont: {family: FONT, size: 35, color: '#000'},
    showline: true, linecolor: '#000', linewidth: 2.7, mirror: true,
    showgrid: false, zeroline: false,
    title: {text: yTitle, font: {family: FONT, size: 44, color: '#000'}, standoff: 22}
  }
};

Plotly.newPlot('chart', traces, layout, {displayModeBar: false, staticPlot: true});
</script>
</body>
</html>
